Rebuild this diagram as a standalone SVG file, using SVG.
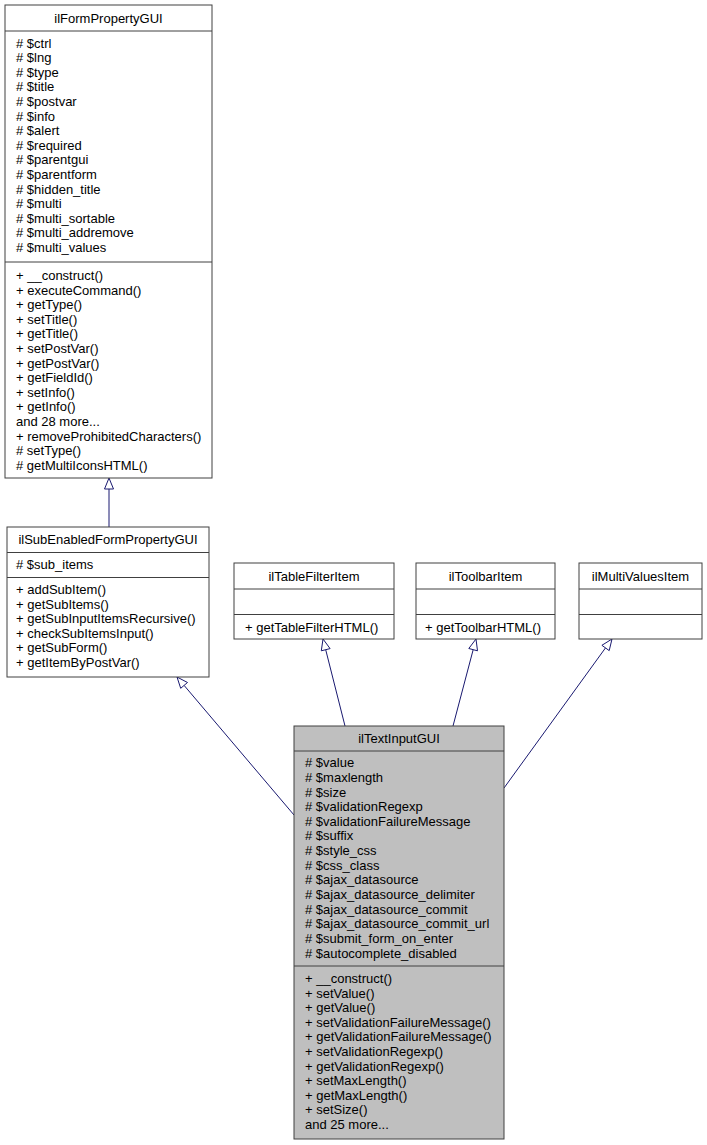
<svg xmlns="http://www.w3.org/2000/svg" width="707" height="1145" viewBox="0 0 707 1145">
<style>
.box{fill:#ffffff;stroke:#404040;stroke-width:1}
.focus{fill:#bfbfbf;stroke:#404040;stroke-width:1}
.sep{stroke:#404040;stroke-width:1}
text{font-family:"Liberation Sans",Arial,sans-serif;font-size:13px;fill:#000}
.t{text-anchor:middle}
.edge{stroke:#191970;stroke-width:1;fill:none}
.head{stroke:#191970;stroke-width:1;fill:#ffffff}
</style>
<rect width="707" height="1145" fill="#ffffff"/>
<g id="connectors">
<line class="edge" x1="109" y1="489" x2="109" y2="527"/>
<polygon class="head" points="109,478 104.5,489 113.5,489"/>
<line class="edge" x1="184.1" y1="685.4" x2="294" y2="815"/>
<polygon class="head" points="177,677 180.7,688.3 187.5,682.5"/>
<line class="edge" x1="325.7" y1="649.7" x2="345" y2="726"/>
<polygon class="head" points="323,639 321.3,650.8 330.1,648.6"/>
<line class="edge" x1="473.2" y1="649.6" x2="453" y2="726"/>
<polygon class="head" points="476,639 468.8,648.5 477.5,650.8"/>
<line class="edge" x1="605.5" y1="647.9" x2="504" y2="788"/>
<polygon class="head" points="612,639 601.9,645.3 609.2,650.6"/>
</g>
<g id="ilFormPropertyGUI">
<rect class="box" x="5" y="5" width="207" height="473"/>
<line class="sep" x1="5" y1="31" x2="212" y2="31"/>
<line class="sep" x1="5" y1="262" x2="212" y2="262"/>
<text class="t" x="108.5" y="22.5">ilFormPropertyGUI</text>
<text x="16" y="47.5"># $ctrl</text>
<text x="16" y="62.1"># $lng</text>
<text x="16" y="76.7"># $type</text>
<text x="16" y="91.3"># $title</text>
<text x="16" y="105.9"># $postvar</text>
<text x="16" y="120.5"># $info</text>
<text x="16" y="135.1"># $alert</text>
<text x="16" y="149.7"># $required</text>
<text x="16" y="164.3"># $parentgui</text>
<text x="16" y="178.9"># $parentform</text>
<text x="16" y="193.5"># $hidden_title</text>
<text x="16" y="208.1"># $multi</text>
<text x="16" y="222.7"># $multi_sortable</text>
<text x="16" y="237.3"># $multi_addremove</text>
<text x="16" y="251.9"># $multi_values</text>
<text x="16" y="280">+ __construct()</text>
<text x="16" y="294.6">+ executeCommand()</text>
<text x="16" y="309.2">+ getType()</text>
<text x="16" y="323.8">+ setTitle()</text>
<text x="16" y="338.4">+ getTitle()</text>
<text x="16" y="353">+ setPostVar()</text>
<text x="16" y="367.6">+ getPostVar()</text>
<text x="16" y="382.2">+ getFieldId()</text>
<text x="16" y="396.8">+ setInfo()</text>
<text x="16" y="411.4">+ getInfo()</text>
<text x="16" y="426">and 28 more...</text>
<text x="16" y="440.6">+ removeProhibitedCharacters()</text>
<text x="16" y="455.2"># setType()</text>
<text x="16" y="469.8"># getMultiIconsHTML()</text>
</g>
<g id="ilSubEnabledFormPropertyGUI">
<rect class="box" x="7" y="527" width="202" height="150"/>
<line class="sep" x1="7" y1="552.5" x2="209" y2="552.5"/>
<line class="sep" x1="7" y1="577.5" x2="209" y2="577.5"/>
<text class="t" x="108" y="544">ilSubEnabledFormPropertyGUI</text>
<text x="16" y="568.5"># $sub_items</text>
<text x="16" y="594">+ addSubItem()</text>
<text x="16" y="608.6">+ getSubItems()</text>
<text x="16" y="623.2">+ getSubInputItemsRecursive()</text>
<text x="16" y="637.8">+ checkSubItemsInput()</text>
<text x="16" y="652.4">+ getSubForm()</text>
<text x="16" y="667">+ getItemByPostVar()</text>
</g>
<g id="ilTableFilterItem">
<rect class="box" x="234" y="563" width="160" height="76"/>
<line class="sep" x1="234" y1="589" x2="394" y2="589"/>
<line class="sep" x1="234" y1="614.5" x2="394" y2="614.5"/>
<text class="t" x="314" y="580.5">ilTableFilterItem</text>
<text x="245" y="631.5">+ getTableFilterHTML()</text>
</g>
<g id="ilToolbarItem">
<rect class="box" x="416" y="563" width="139" height="76"/>
<line class="sep" x1="416" y1="589" x2="555" y2="589"/>
<line class="sep" x1="416" y1="614.5" x2="555" y2="614.5"/>
<text class="t" x="485.5" y="580.5">ilToolbarItem</text>
<text x="425" y="631.5">+ getToolbarHTML()</text>
</g>
<g id="ilMultiValuesItem">
<rect class="box" x="579" y="563" width="123" height="76"/>
<line class="sep" x1="579" y1="589" x2="702" y2="589"/>
<line class="sep" x1="579" y1="614.5" x2="702" y2="614.5"/>
<text class="t" x="640.5" y="580.5">ilMultiValuesItem</text>
</g>
<g id="ilTextInputGUI">
<rect class="focus" x="294" y="726" width="210" height="413"/>
<line class="sep" x1="294" y1="751" x2="504" y2="751"/>
<line class="sep" x1="294" y1="966" x2="504" y2="966"/>
<text class="t" x="399" y="743">ilTextInputGUI</text>
<text x="305" y="767.2"># $value</text>
<text x="305" y="781.8"># $maxlength</text>
<text x="305" y="796.5"># $size</text>
<text x="305" y="811.1"># $validationRegexp</text>
<text x="305" y="825.8"># $validationFailureMessage</text>
<text x="305" y="840.4"># $suffix</text>
<text x="305" y="855.1"># $style_css</text>
<text x="305" y="869.7"># $css_class</text>
<text x="305" y="884.4"># $ajax_datasource</text>
<text x="305" y="899"># $ajax_datasource_delimiter</text>
<text x="305" y="913.7"># $ajax_datasource_commit</text>
<text x="305" y="928.3"># $ajax_datasource_commit_url</text>
<text x="305" y="943"># $submit_form_on_enter</text>
<text x="305" y="957.6"># $autocomplete_disabled</text>
<text x="305" y="983">+ __construct()</text>
<text x="305" y="997.6">+ setValue()</text>
<text x="305" y="1012.2">+ getValue()</text>
<text x="305" y="1026.8">+ setValidationFailureMessage()</text>
<text x="305" y="1041.4">+ getValidationFailureMessage()</text>
<text x="305" y="1056">+ setValidationRegexp()</text>
<text x="305" y="1070.6">+ getValidationRegexp()</text>
<text x="305" y="1085.2">+ setMaxLength()</text>
<text x="305" y="1099.8">+ getMaxLength()</text>
<text x="305" y="1114.4">+ setSize()</text>
<text x="305" y="1129">and 25 more...</text>
</g>
</svg>
